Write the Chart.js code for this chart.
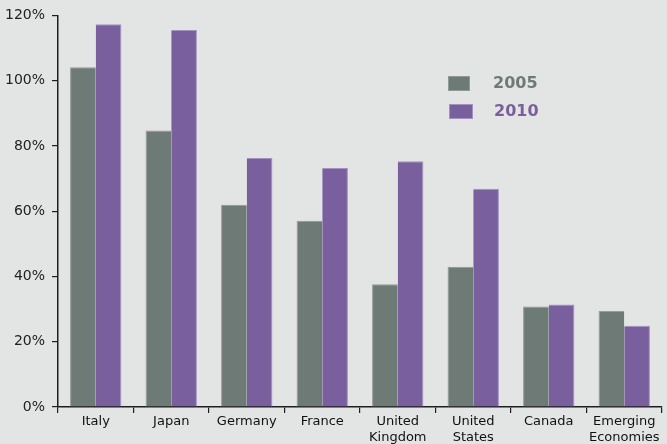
<!DOCTYPE html>
<html><head><meta charset="utf-8">
<script src="https://cdn.jsdelivr.net/npm/chart.js@4"></script>
<style>html,body{margin:0;padding:0;background:#e3e5e4;} #wrap{width:667px;height:444px;position:relative}</style>
</head><body><div id="wrap"><canvas id="c" width="667" height="444"></canvas></div>
<script>
const categories = [['Italy'],['Japan'],['Germany'],['France'],['United','Kingdom'],['United','States'],['Canada'],['Emerging','Economies']];
const series2005 = [104.1, 84.7, 62.0, 57.1, 37.6, 43.0, 30.8, 29.5];
const series2010 = [117.3, 115.5, 76.3, 73.2, 75.3, 66.9, 31.4, 24.9];
const seriesNames = ['2005', '2010'];
const yTickValues = [0, 20, 40, 60, 80, 100, 120];

const gray = '#6e7a76', purple = '#7a5f9e';
const axisColor = '#1e1e1e';

const legendPlugin = {
  id: 'customLegend',
  afterDraw(chart) {
    const ctx = chart.ctx;
    const items = [
      {box: [448, 76, 22, 15], tx: 493, ty: 83.5},
      {box: [449, 104, 24, 15], tx: 494, ty: 111.5}
    ];
    ctx.save();
    chart.data.datasets.forEach((ds, i) => {
      const it = items[i];
      ctx.fillStyle = ds.backgroundColor;
      ctx.fillRect(...it.box);
      ctx.strokeStyle = ds.borderColor;
      ctx.lineWidth = 1;
      ctx.strokeRect(it.box[0] + 0.5, it.box[1] + 0.5, it.box[2] - 1, it.box[3] - 1);
      ctx.font = 'bold 16px "DejaVu Sans"';
      ctx.fillStyle = ds.backgroundColor;
      ctx.textBaseline = 'middle';
      ctx.textAlign = 'left';
      ctx.fillText(ds.label, it.tx, it.ty);
    });
    ctx.restore();
  }
};

new Chart(document.getElementById('c'), {
  type: 'bar',
  data: {
    labels: categories,
    datasets: [
      {label: seriesNames[0], data: series2005, backgroundColor: gray, borderColor: '#8f9995', borderWidth: {top:1,left:1,right:0,bottom:0}},
      {label: seriesNames[1], data: series2010, backgroundColor: purple, borderColor: '#a391c2', borderWidth: {top:1,left:0,right:1,bottom:0}}
    ]
  },
  options: {
    responsive: false,
    animation: false,
    devicePixelRatio: 1,
    layout: {padding: {top: 14, right: 5, left: 0, bottom: 0}},
    datasets: {bar: {categoryPercentage: 0.68, barPercentage: 1.0}},
    plugins: {legend: {display: false}, tooltip: {enabled: false}},
    scales: {
      x: {
        grid: {display: true, drawOnChartArea: false, drawTicks: true, tickLength: 6, color: axisColor, lineWidth: 1.2, offset: true},
        border: {display: true, color: axisColor, width: 1.5},
        ticks: {color: '#111', font: {family: '"DejaVu Sans"', size: 13}, padding: 1, maxRotation: 0, autoSkip: false},
        afterFit(s) { s.height = 37; }
      },
      y: {
        min: 0, max: 120,
        afterBuildTicks(s) { s.ticks = yTickValues.map(v => ({value: v})); },
        grid: {display: true, drawOnChartArea: false, drawTicks: true, tickLength: 6, color: axisColor, lineWidth: 1.2},
        border: {display: true, color: axisColor, width: 1.5},
        ticks: {color: '#222', font: {family: '"DejaVu Sans"', size: 14}, padding: 7, callback: v => v + '%'},
        afterFit(s) { s.width = 58; }
      }
    }
  },
  plugins: [legendPlugin]
});
</script></body></html>
